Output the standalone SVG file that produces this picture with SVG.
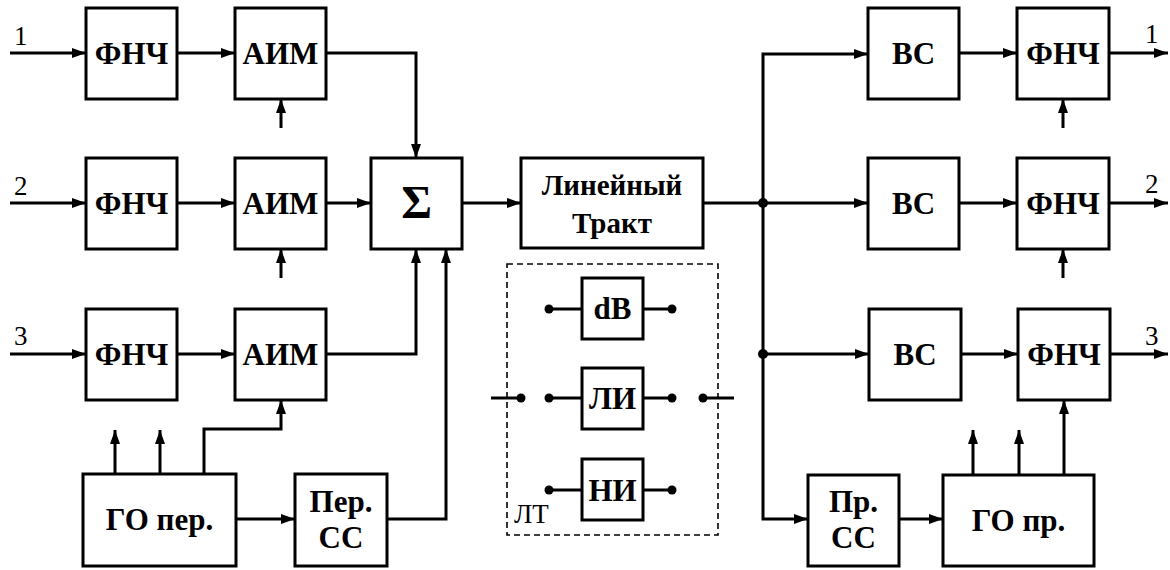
<svg xmlns="http://www.w3.org/2000/svg" width="1170" height="570" viewBox="0 0 1170 570">
<style>
.box{fill:#fff;stroke:#000;stroke-width:3}
.dash{fill:none;stroke:#000;stroke-width:1.6;stroke-dasharray:6,4}
.ln{fill:none;stroke:#000;stroke-width:3}
.arr{fill:none;stroke:#000;stroke-width:3;marker-end:url(#ah)}
.t{font-weight:bold;font-size:31px;text-anchor:middle;fill:#000}
.n{font-size:27px;fill:#000}
.dot{fill:#000}
</style>
<defs>
<marker id="ah" viewBox="0 0 14 10" refX="14" refY="5" markerWidth="14" markerHeight="10" markerUnits="userSpaceOnUse" orient="auto">
<path d="M0,0 L14,5 L0,10 Z" fill="#000"/>
</marker>
</defs>
<rect x="0" y="0" width="1170" height="570" fill="#fff"/>
<g id="connectors">
<path class="arr" d="M10 53 H86"/>
<path class="arr" d="M177 53 H235"/>
<path class="arr" d="M326 53 H416 V158"/>
<path class="arr" d="M281 128 V99"/>
<path class="arr" d="M10 203 H86"/>
<path class="arr" d="M177 203 H235"/>
<path class="arr" d="M326 203 H371"/>
<path class="arr" d="M281 278 V249"/>
<path class="arr" d="M10 354 H86"/>
<path class="arr" d="M177 354 H235"/>
<path class="arr" d="M326 354 H416 V249"/>
<path class="arr" d="M115 474 V430"/>
<path class="arr" d="M160 474 V430"/>
<path class="arr" d="M204 474 V429 H281 V400"/>
<path class="arr" d="M236 519 H295"/>
<path class="arr" d="M387 519 H446 V249"/>
<path class="arr" d="M462 203 H521"/>
<path class="ln" d="M703 203 H763"/>
<path class="arr" d="M763 203 V54 H868"/>
<path class="arr" d="M763 203 H868"/>
<path class="arr" d="M763 203 V519 H808"/>
<path class="arr" d="M763 354 H869"/>
<circle class="dot" cx="763" cy="203" r="5"/>
<circle class="dot" cx="763" cy="354" r="5"/>
<path class="arr" d="M959 53 H1017"/>
<path class="arr" d="M959 203 H1017"/>
<path class="arr" d="M961 354 H1018"/>
<path class="arr" d="M1109 53 H1168"/>
<path class="arr" d="M1109 203 H1168"/>
<path class="arr" d="M1110 354 H1168"/>
<path class="arr" d="M1063 128 V99"/>
<path class="arr" d="M1063 278 V249"/>
<path class="arr" d="M973 475 V430"/>
<path class="arr" d="M1019 475 V430"/>
<path class="arr" d="M1064 475 V400"/>
<path class="arr" d="M899 519 H943"/>
</g>
<g font-family="Liberation Serif, Times New Roman, serif">
<g id="labels">
<text class="n" x="14" y="45">1</text>
<text class="n" x="14" y="195">2</text>
<text class="n" x="14" y="345">3</text>
<text class="n" x="1145" y="43">1</text>
<text class="n" x="1145" y="193">2</text>
<text class="n" x="1145" y="345">3</text>
</g>
<g id="fnch1"><rect class="box" x="86" y="8" width="91" height="91"/><text class="t" x="131.5" y="64">ФНЧ</text></g>
<g id="aim1"><rect class="box" x="235" y="8" width="91" height="91"/><text class="t" x="280.5" y="64">АИМ</text></g>
<g id="fnch2"><rect class="box" x="86" y="158" width="91" height="91"/><text class="t" x="131.5" y="214">ФНЧ</text></g>
<g id="aim2"><rect class="box" x="235" y="158" width="91" height="91"/><text class="t" x="280.5" y="214">АИМ</text></g>
<g id="sum"><rect class="box" x="371" y="158" width="91" height="91"/><text class="t" x="416.5" y="218" style="font-size:47px">Σ</text></g>
<g id="fnch3"><rect class="box" x="86" y="309" width="91" height="91"/><text class="t" x="131.5" y="365">ФНЧ</text></g>
<g id="aim3"><rect class="box" x="235" y="309" width="91" height="91"/><text class="t" x="280.5" y="365">АИМ</text></g>
<g id="go-per"><rect class="box" x="83" y="474" width="153" height="92"/><text class="t" x="159.5" y="530">ГО пер.</text></g>
<g id="per-ss"><rect class="box" x="295" y="474" width="92" height="92"/><text class="t" x="341" y="512">Пер.</text><text class="t" x="341" y="548">СС</text></g>
<g id="lin"><rect class="box" x="521" y="158" width="182" height="90"/><text class="t" x="612" y="195" style="font-size:29px">Линейный</text><text class="t" x="612" y="233" style="font-size:29px">Тракт</text></g>
<g id="lt">
<rect class="dash" x="507" y="264" width="211" height="271"/>
<text class="n" x="514" y="523">ЛТ</text>
<path class="ln" d="M549 309 H582 M643 309 H672 M549 398 H582 M643 398 H672 M549 490 H582 M643 490 H672 M491 398 H521 M703 398 H734"/>
<circle class="dot" cx="549" cy="309" r="4.5"/><circle class="dot" cx="672" cy="309" r="4.5"/>
<circle class="dot" cx="549" cy="398" r="4.5"/><circle class="dot" cx="672" cy="398" r="4.5"/>
<circle class="dot" cx="521" cy="398" r="4.5"/><circle class="dot" cx="703" cy="398" r="4.5"/>
<circle class="dot" cx="549" cy="490" r="4.5"/><circle class="dot" cx="672" cy="490" r="4.5"/>
</g>
<g id="db"><rect class="box" x="582" y="278" width="61" height="61"/><text class="t" x="612.5" y="319">dB</text></g>
<g id="li"><rect class="box" x="582" y="368" width="61" height="61"/><text class="t" x="612.5" y="409">ЛИ</text></g>
<g id="ni"><rect class="box" x="582" y="459" width="61" height="61"/><text class="t" x="612.5" y="501">НИ</text></g>
<g id="vs1"><rect class="box" x="868" y="8" width="91" height="91"/><text class="t" x="913.5" y="64">ВС</text></g>
<g id="fnchr1"><rect class="box" x="1017" y="8" width="92" height="91"/><text class="t" x="1063" y="64">ФНЧ</text></g>
<g id="vs2"><rect class="box" x="868" y="158" width="91" height="91"/><text class="t" x="913.5" y="214">ВС</text></g>
<g id="fnchr2"><rect class="box" x="1017" y="158" width="92" height="91"/><text class="t" x="1063" y="214">ФНЧ</text></g>
<g id="vs3"><rect class="box" x="869" y="309" width="92" height="91"/><text class="t" x="915" y="365">ВС</text></g>
<g id="fnchr3"><rect class="box" x="1018" y="309" width="92" height="91"/><text class="t" x="1064" y="365">ФНЧ</text></g>
<g id="pr-ss"><rect class="box" x="808" y="475" width="91" height="91"/><text class="t" x="853.5" y="512">Пр.</text><text class="t" x="853.5" y="548">СС</text></g>
<g id="go-pr"><rect class="box" x="943" y="475" width="151" height="91"/><text class="t" x="1018.5" y="531">ГО пр.</text></g>
</g>
</svg>
